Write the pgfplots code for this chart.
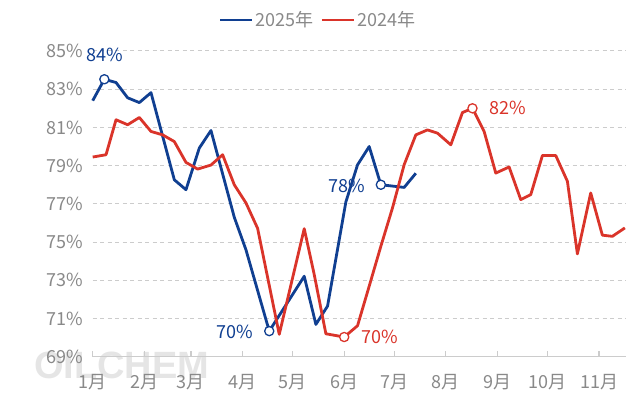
\documentclass[border=0pt]{standalone}
\usepackage{fontspec}
\setmainfont{Noto Sans CJK SC}
\newfontfamily\wmfont{Liberation Sans}
\usepackage{pgfplots}
\usepackage{pgfplotstable}
\pgfplotsset{compat=1.18}
\definecolor{line25}{RGB}{16,63,145}
\definecolor{line24}{RGB}{218,52,42}
\definecolor{tickgray}{RGB}{137,137,137}
\definecolor{gridgray}{RGB}{204,204,204}
\newcommand{\lblfont}{\fontsize{18bp}{21bp}\selectfont}

% day of year (0 = 1 Jan), utilisation rate in %
\pgfplotstableread{
day val
0   82.40
7   83.52
14  83.35
21  82.55
28  82.30
35  82.82
49  78.26
56  77.74
64  79.92
71  80.84
85  76.30
92  74.60
106 70.34
127 73.21
134 70.69
141 71.65
152 77.10
159 79.04
166 80.00
173 78.00
187 77.86
194 78.60
}\yrtwentyfive

\pgfplotstableread{
day val
0   79.45
8   79.57
14  81.40
21  81.14
28  81.52
35  80.79
42  80.61
49  80.26
56  79.17
63  78.82
71  79.03
78  79.57
85  78.00
92  77.05
99  75.72
112 70.17
127 75.70
133 73.30
140 70.20
151 70.03
159 70.62
166 72.69
173 74.78
180 76.79
187 79.05
194 80.61
201 80.87
207 80.70
215 80.09
222 81.78
228 82.00
235 80.79
242 78.61
250 78.93
257 77.22
263 77.48
270 79.53
278 79.53
285 78.18
291 74.38
299 77.57
306 75.36
312 75.30
319.5 75.74
}\yrtwentyfour

\begin{document}
\begin{tikzpicture}
\useasboundingbox (-92.7bp,-59.3bp) rectangle (548.3bp,356.7bp);
% watermark
\node[text=black!10, font=\wmfont\bfseries\fontsize{38bp}{40bp}\selectfont] at (29bp,-9bp) {OILCHEM};
\begin{axis}[
    at={(0,0)}, anchor=south west,
    scale only axis,
    width=533bp, height=305.7bp,
    xmin=0, xmax=320,
    ymin=69, ymax=85,
    clip=false,
    axis lines*=left,
    y axis line style={draw=none},
    x axis line style={draw=gridgray, line width=1.3bp, -},
    tick align=inside,
    major tick length=6bp,
    xtick={0,31,59,90,120,151,181,212,243,273,304},
    xticklabels={1月,2月,3月,4月,5月,6月,7月,8月,9月,10月,11月},
    xtick style={draw=gridgray, line width=1.2bp},
    ytick={69,71,73,75,77,79,81,83,85},
    yticklabels={69\%,71\%,73\%,75\%,77\%,79\%,81\%,83\%,85\%},
    ytick style={draw=none},
    ymajorgrids,
    grid style={gridgray, line width=1bp, dash pattern=on 4bp off 3.5bp},
    tick label style={font=\lblfont, text=tickgray},
    yticklabel style={xshift=-6bp},
    xticklabel style={yshift=-14bp},
    legend style={draw=none, fill=none, at={(0.4227,1.1014)}, anchor=center,
        font=\lblfont, text=tickgray, inner sep=0pt,
        /tikz/every even column/.append style={column sep=5bp}},
    legend columns=2,
    legend image code/.code={\draw[#1] (0bp,0bp) -- (32bp,0bp);},
    every axis plot/.append style={line width=2.8bp, line join=round},
]
\addlegendimage{line25, line width=2.8bp}
\addlegendentry{2025年}
\addlegendimage{line24, line width=2.8bp}
\addlegendentry{2024年}

\addplot[line25, forget plot] table[x=day, y=val] {\yrtwentyfive};
\addplot[line24, forget plot] table[x=day, y=val] {\yrtwentyfour};

% highlighted points
\pgfplotsset{hl/.style={only marks, forget plot, mark=*, mark size=4.6bp,
    mark options={draw=#1, fill=white, line width=1.3bp},
    every node near coord/.append style={font=\lblfont, text=#1, anchor=center}}}
\addplot[hl=line25, nodes near coords={84\%},
    every node near coord/.append style={yshift=24bp}] coordinates {(7,83.52)};
\addplot[hl=line25, nodes near coords={70\%},
    every node near coord/.append style={xshift=-34bp, yshift=-1bp}] coordinates {(106,70.34)};
\addplot[hl=line25, nodes near coords={78\%},
    every node near coord/.append style={xshift=-34bp, yshift=-1bp}] coordinates {(173,78.00)};
\addplot[hl=line24, nodes near coords={70\%},
    every node near coord/.append style={xshift=35.5bp}] coordinates {(151,70.03)};
\addplot[hl=line24, nodes near coords={82\%},
    every node near coord/.append style={xshift=35bp}] coordinates {(228,82.00)};
\end{axis}
\end{tikzpicture}
\end{document}
